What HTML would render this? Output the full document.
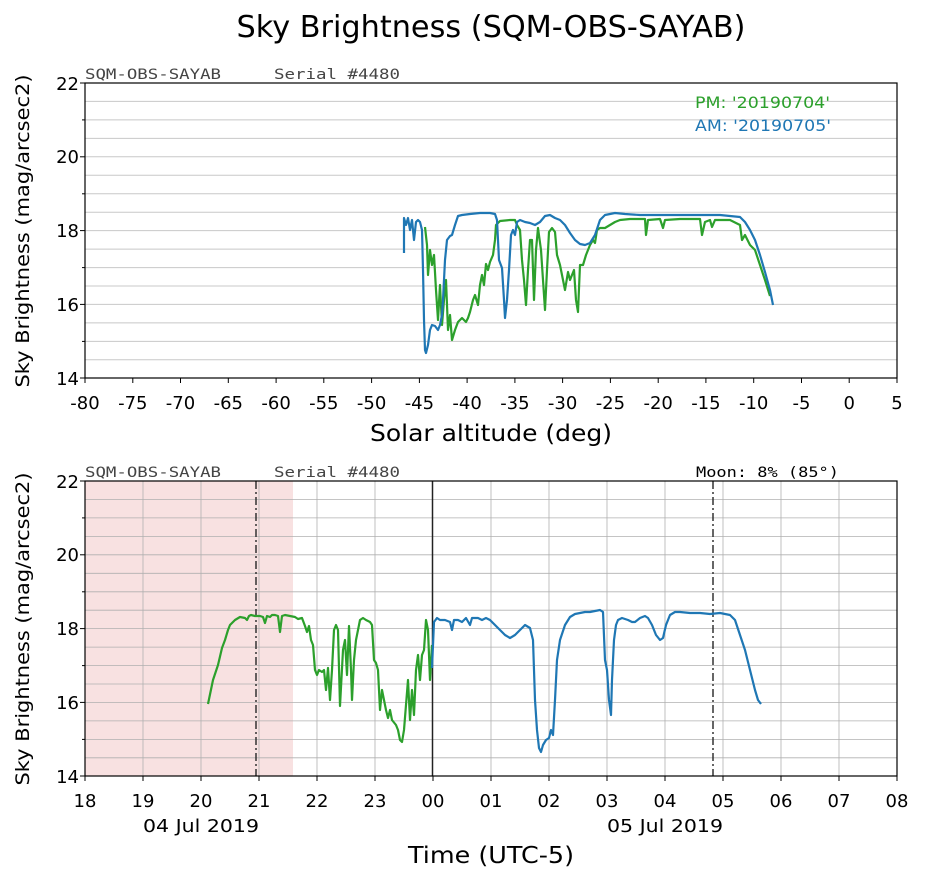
<!DOCTYPE html>
<html><head><meta charset="utf-8"><style>body{margin:0;background:#fff}svg{display:block}</style></head><body>
<svg width="926" height="882" viewBox="0 0 926 882" xmlns="http://www.w3.org/2000/svg" font-family="'DejaVu Sans','Liberation Sans',sans-serif">
<text x="491" y="37" font-size="30" text-anchor="middle" textLength="509" lengthAdjust="spacingAndGlyphs">Sky Brightness (SQM-OBS-SAYAB)</text>

<!-- TOP PLOT -->
<g stroke="#c8c8c8" stroke-width="1">
<line x1="85" x2="897" y1="101.4" y2="101.4"/><line x1="85" x2="897" y1="119.9" y2="119.9"/><line x1="85" x2="897" y1="138.4" y2="138.4"/><line x1="85" x2="897" y1="156.8" y2="156.8"/><line x1="85" x2="897" y1="175.3" y2="175.3"/><line x1="85" x2="897" y1="193.8" y2="193.8"/><line x1="85" x2="897" y1="212.2" y2="212.2"/><line x1="85" x2="897" y1="230.6" y2="230.6"/><line x1="85" x2="897" y1="249.1" y2="249.1"/><line x1="85" x2="897" y1="267.6" y2="267.6"/><line x1="85" x2="897" y1="286" y2="286"/><line x1="85" x2="897" y1="304.4" y2="304.4"/><line x1="85" x2="897" y1="322.9" y2="322.9"/><line x1="85" x2="897" y1="341.4" y2="341.4"/><line x1="85" x2="897" y1="359.8" y2="359.8"/>
</g>
<polyline fill="none" stroke="#2ca02c" stroke-width="2.2" stroke-linejoin="round" points="425,227 427,245 428,275 430,250 432,265 434,255 436,290 438,320 440,285 442,325 444,300 446,280 448,330 450,315 452,340 455,330 458,322 462,318 466,322 468,318 470,312 473,300 475,295 478,305 480,285 482,275 484,285 486,264 488,270 490,262 493,255 495,240 496,225 500,221 510,220 515,220 517,225 520,230 522,260 524,280 526,305 528,270 530,240 532,240 534,300 536,250 538,228 541,250 543,280 545,310 547,270 549,232 552,228 555,232 557,255 560,265 562,275 565,290 568,272 570,280 574,270 576,300 578,312 580,265 583,265 586,255 590,245 593,240 595,243 597,230 600,228 605,228 610,225 615,222 620,220 630,219 645,219 646,235 648,220 660,219 663,228 665,220 680,219 700,219 702,235 705,222 710,220 712,227 715,220 730,220 740,225 742,240 745,235 750,245 755,250 760,265 765,280 770,296"/>
<polyline fill="none" stroke="#1f77b4" stroke-width="2.2" stroke-linejoin="round" points="404,253 404,218 406,225 408,218 410,230 412,220 414,240 416,222 418,220 420,222 422,230 423,270 424,320 425,350 426,353 428,345 430,330 432,325 435,326 438,330 440,325 442,315 443,300 445,260 447,240 450,236 452,235 455,225 458,216 462,215 470,214 480,213 490,213 495,214 497,220 499,260 502,268 504,300 505,318 507,300 509,270 511,235 513,230 515,235 517,222 520,220 525,222 530,223 535,225 540,222 545,216 550,215 555,218 560,220 565,225 570,233 575,240 580,244 585,245 590,243 595,235 600,220 605,215 615,213 625,214 640,215 660,215 680,215 700,215 710,215 720,215 730,216 740,217 745,222 750,230 755,240 760,255 765,272 770,290 773,305"/>
<rect x="85" y="83" width="812" height="295" fill="none" stroke="#000" stroke-width="1.2"/>
<text x="85" y="79" font-family="'DejaVu Sans Mono',monospace" font-size="14" fill="#444" textLength="136" lengthAdjust="spacingAndGlyphs">SQM-OBS-SAYAB</text>
<text x="274" y="79" font-family="'DejaVu Sans Mono',monospace" font-size="14" fill="#444" textLength="126" lengthAdjust="spacingAndGlyphs">Serial #4480</text>
<text x="695" y="108" font-size="16" fill="#2ca02c" textLength="135" lengthAdjust="spacingAndGlyphs">PM: '20190704'</text>
<text x="695" y="131" font-size="16" fill="#1f77b4" textLength="136" lengthAdjust="spacingAndGlyphs">AM: '20190705'</text>
<g stroke="#000" stroke-width="1">
<line x1="80" x2="85" y1="83" y2="83"/><line x1="80" x2="85" y1="156.8" y2="156.8"/><line x1="80" x2="85" y1="230.6" y2="230.6"/><line x1="80" x2="85" y1="304.4" y2="304.4"/><line x1="80" x2="85" y1="378" y2="378"/>
<line x1="82" x2="85" y1="119.9" y2="119.9"/><line x1="82" x2="85" y1="193.8" y2="193.8"/><line x1="82" x2="85" y1="267.6" y2="267.6"/><line x1="82" x2="85" y1="341.4" y2="341.4"/>
</g>
<g font-size="18" text-anchor="end">
<text x="79" y="90">22</text><text x="79" y="163">20</text><text x="79" y="237">18</text><text x="79" y="311">16</text><text x="79" y="385">14</text>
</g>
<text transform="translate(29,231) rotate(-90)" font-size="19" text-anchor="middle" textLength="313" lengthAdjust="spacingAndGlyphs">Sky Brightness (mag/arcsec2)</text>
<g stroke="#000">
<line x1="85" x2="85" y1="378" y2="383"/><line x1="132.8" x2="132.8" y1="378" y2="383"/><line x1="180.5" x2="180.5" y1="378" y2="383"/><line x1="228.3" x2="228.3" y1="378" y2="383"/><line x1="276.1" x2="276.1" y1="378" y2="383"/><line x1="323.8" x2="323.8" y1="378" y2="383"/><line x1="371.6" x2="371.6" y1="378" y2="383"/><line x1="419.4" x2="419.4" y1="378" y2="383"/><line x1="467.1" x2="467.1" y1="378" y2="383"/><line x1="514.9" x2="514.9" y1="378" y2="383"/><line x1="562.6" x2="562.6" y1="378" y2="383"/><line x1="610.4" x2="610.4" y1="378" y2="383"/><line x1="658.2" x2="658.2" y1="378" y2="383"/><line x1="705.9" x2="705.9" y1="378" y2="383"/><line x1="753.7" x2="753.7" y1="378" y2="383"/><line x1="801.5" x2="801.5" y1="378" y2="383"/><line x1="849.2" x2="849.2" y1="378" y2="383"/><line x1="897" x2="897" y1="378" y2="383"/>
</g>
<g font-size="18" text-anchor="middle">
<text x="85" y="409">-80</text><text x="132.8" y="409">-75</text><text x="180.5" y="409">-70</text><text x="228.3" y="409">-65</text><text x="276.1" y="409">-60</text><text x="323.8" y="409">-55</text><text x="371.6" y="409">-50</text><text x="419.4" y="409">-45</text><text x="467.1" y="409">-40</text><text x="514.9" y="409">-35</text><text x="562.6" y="409">-30</text><text x="610.4" y="409">-25</text><text x="658.2" y="409">-20</text><text x="705.9" y="409">-15</text><text x="753.7" y="409">-10</text><text x="801.5" y="409">-5</text><text x="849.2" y="409">0</text><text x="897" y="409">5</text>
</g>
<text x="491" y="441" font-size="23" text-anchor="middle" textLength="242" lengthAdjust="spacingAndGlyphs">Solar altitude (deg)</text>

<!-- BOTTOM PLOT -->
<rect x="85" y="481" width="208" height="295" fill="#f8e1e1"/>
<g stroke="#b0b0b0" stroke-width="0.8">
<line x1="85" x2="897" y1="499.4" y2="499.4"/><line x1="85" x2="897" y1="517.9" y2="517.9"/><line x1="85" x2="897" y1="536.4" y2="536.4"/><line x1="85" x2="897" y1="554.8" y2="554.8"/><line x1="85" x2="897" y1="573.3" y2="573.3"/><line x1="85" x2="897" y1="591.8" y2="591.8"/><line x1="85" x2="897" y1="610.2" y2="610.2"/><line x1="85" x2="897" y1="628.6" y2="628.6"/><line x1="85" x2="897" y1="647.1" y2="647.1"/><line x1="85" x2="897" y1="665.6" y2="665.6"/><line x1="85" x2="897" y1="684" y2="684"/><line x1="85" x2="897" y1="702.4" y2="702.4"/><line x1="85" x2="897" y1="720.9" y2="720.9"/><line x1="85" x2="897" y1="739.4" y2="739.4"/><line x1="85" x2="897" y1="757.8" y2="757.8"/>
<line x1="143" x2="143" y1="481" y2="776"/><line x1="201" x2="201" y1="481" y2="776"/><line x1="259" x2="259" y1="481" y2="776"/><line x1="317" x2="317" y1="481" y2="776"/><line x1="375" x2="375" y1="481" y2="776"/><line x1="491" x2="491" y1="481" y2="776"/><line x1="549" x2="549" y1="481" y2="776"/><line x1="607" x2="607" y1="481" y2="776"/><line x1="665" x2="665" y1="481" y2="776"/><line x1="723" x2="723" y1="481" y2="776"/><line x1="781" x2="781" y1="481" y2="776"/><line x1="839" x2="839" y1="481" y2="776"/>
</g>
<line x1="432.5" x2="432.5" y1="481" y2="776" stroke="#222" stroke-width="1.5"/>
<line x1="256" x2="256" y1="481" y2="776" stroke="#333" stroke-width="1.5" stroke-dasharray="8,3,2,3"/>
<line x1="713" x2="713" y1="481" y2="776" stroke="#333" stroke-width="1.5" stroke-dasharray="8,3,2,3"/>
<polyline fill="none" stroke="#2ca02c" stroke-width="2.2" stroke-linejoin="round" points="208,704 213,680 218,665 222,648 225,640 228,630 230,625 235,620 240,617 245,618 247,620 249,616 251,615 255,616 260,616 263,617 265,623 267,616 270,617 272,615 275,615 278,616 280,632 282,616 285,615 290,616 295,617 298,619 302,618 305,626 307,632 309,626 311,640 313,645 315,670 317,675 319,670 322,672 324,670 326,690 328,668 330,700 332,670 334,630 336,625 338,630 340,706 343,650 345,640 347,675 349,626 351,670 352,700 354,660 356,640 358,630 360,620 363,618 366,620 370,622 372,625 374,660 376,663 378,670 380,710 382,690 384,700 386,710 388,718 390,710 392,720 396,725 398,730 400,740 402,742 404,730 406,705 408,680 410,720 412,690 414,715 416,670 418,655 420,680 422,655 424,650 426,620 428,630 430,680 432,645"/>
<polyline fill="none" stroke="#1f77b4" stroke-width="2.2" stroke-linejoin="round" points="432,668 434,622 437,618 440,620 445,620 450,622 452,630 454,620 458,620 462,622 466,618 470,625 472,618 478,618 482,620 486,618 490,620 495,625 500,630 505,635 510,638 515,635 520,630 525,625 530,628 533,640 535,700 537,730 539,748 541,752 543,745 546,740 549,738 551,730 553,735 555,700 557,660 560,640 565,625 570,617 575,614 580,613 585,612 590,612 595,611 600,610 603,612 605,660 607,670 609,700 611,715 612,680 614,640 616,625 618,620 622,618 628,620 632,622 635,622 640,618 645,616 648,618 652,625 656,635 660,640 663,638 666,625 670,615 675,612 680,612 690,613 700,613 710,614 720,613 730,615 735,620 740,635 745,650 750,670 755,690 758,700 761,704"/>
<rect x="85" y="481" width="812" height="295" fill="none" stroke="#000" stroke-width="1.2"/>
<text x="85" y="477" font-family="'DejaVu Sans Mono',monospace" font-size="14" fill="#444" textLength="136" lengthAdjust="spacingAndGlyphs">SQM-OBS-SAYAB</text>
<text x="274" y="477" font-family="'DejaVu Sans Mono',monospace" font-size="14" fill="#444" textLength="126" lengthAdjust="spacingAndGlyphs">Serial #4480</text>
<text x="696" y="477" font-family="'DejaVu Sans Mono',monospace" font-size="14" fill="#000" textLength="143" lengthAdjust="spacingAndGlyphs">Moon: 8% (85°)</text>
<g stroke="#000" stroke-width="1">
<line x1="80" x2="85" y1="481" y2="481"/><line x1="80" x2="85" y1="554.8" y2="554.8"/><line x1="80" x2="85" y1="628.6" y2="628.6"/><line x1="80" x2="85" y1="702.4" y2="702.4"/><line x1="80" x2="85" y1="776" y2="776"/>
<line x1="82" x2="85" y1="517.9" y2="517.9"/><line x1="82" x2="85" y1="591.8" y2="591.8"/><line x1="82" x2="85" y1="665.6" y2="665.6"/><line x1="82" x2="85" y1="739.4" y2="739.4"/>
<line x1="85" x2="85" y1="776" y2="781"/><line x1="143" x2="143" y1="776" y2="781"/><line x1="201" x2="201" y1="776" y2="781"/><line x1="259" x2="259" y1="776" y2="781"/><line x1="317" x2="317" y1="776" y2="781"/><line x1="375" x2="375" y1="776" y2="781"/><line x1="433" x2="433" y1="776" y2="781"/><line x1="491" x2="491" y1="776" y2="781"/><line x1="549" x2="549" y1="776" y2="781"/><line x1="607" x2="607" y1="776" y2="781"/><line x1="665" x2="665" y1="776" y2="781"/><line x1="723" x2="723" y1="776" y2="781"/><line x1="781" x2="781" y1="776" y2="781"/><line x1="839" x2="839" y1="776" y2="781"/><line x1="897" x2="897" y1="776" y2="781"/>
</g>
<g font-size="18" text-anchor="end">
<text x="79" y="488">22</text><text x="79" y="561">20</text><text x="79" y="635">18</text><text x="79" y="709">16</text><text x="79" y="783">14</text>
</g>
<text transform="translate(29,629) rotate(-90)" font-size="19" text-anchor="middle" textLength="313" lengthAdjust="spacingAndGlyphs">Sky Brightness (mag/arcsec2)</text>
<g font-size="18" text-anchor="middle">
<text x="85" y="807">18</text><text x="143" y="807">19</text><text x="201" y="807">20</text><text x="259" y="807">21</text><text x="317" y="807">22</text><text x="375" y="807">23</text><text x="433" y="807">00</text><text x="491" y="807">01</text><text x="549" y="807">02</text><text x="607" y="807">03</text><text x="665" y="807">04</text><text x="723" y="807">05</text><text x="781" y="807">06</text><text x="839" y="807">07</text><text x="897" y="807">08</text>
<text x="201" y="832" textLength="116" lengthAdjust="spacingAndGlyphs">04 Jul 2019</text><text x="665" y="832" textLength="116" lengthAdjust="spacingAndGlyphs">05 Jul 2019</text>
</g>
<text x="491" y="863" font-size="23" text-anchor="middle" textLength="166" lengthAdjust="spacingAndGlyphs">Time (UTC-5)</text>
</svg>
</body></html>
